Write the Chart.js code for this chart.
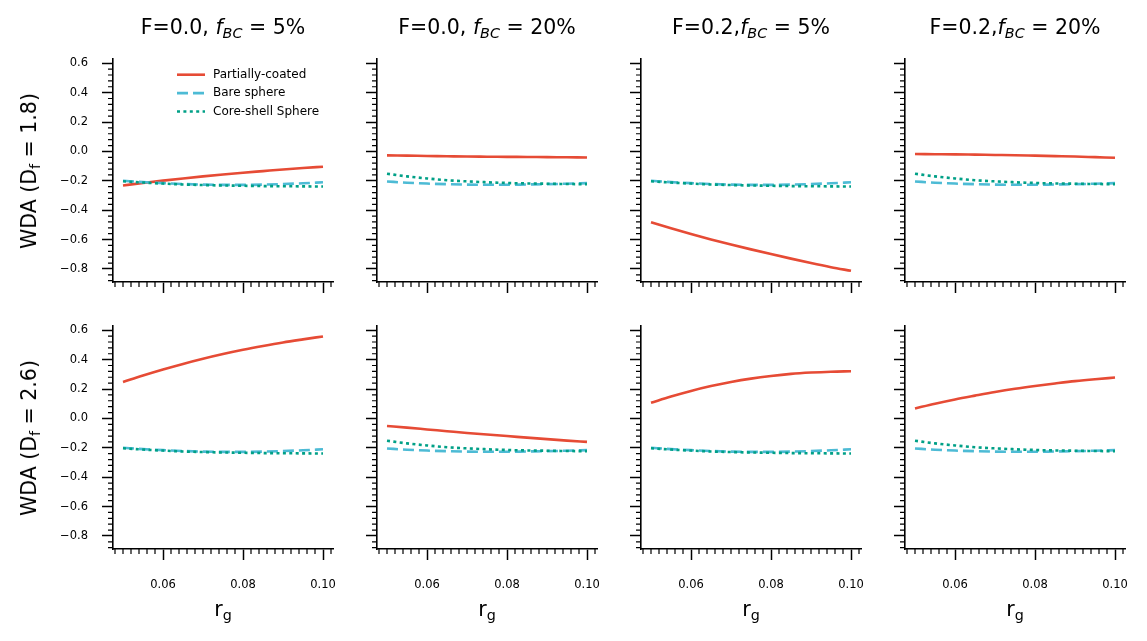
<!DOCTYPE html>
<html>
<head>
<meta charset="utf-8">
<script src="https://cdn.jsdelivr.net/npm/chart.js@4.4.1/dist/chart.umd.min.js"></script>
<style>
  body { margin: 0; background: #fff; width: 1147px; height: 641px; position: relative; overflow: hidden;
         font-family: "DejaVu Sans", sans-serif; color: #000; }
  canvas { position: absolute; }
  .lbl { position: absolute; white-space: nowrap; font-size: 20.5px; transform: translate(-50%, -50%); }
  .rot { transform: translate(-50%, -50%) rotate(-90deg); }
  sub { font-size: 0.7em; vertical-align: -0.3em; line-height: 0; }
</style>
</head>
<body>
<script>
// r_g values (x axis)
const rg = [0.05, 0.055, 0.06, 0.065, 0.07, 0.075, 0.08, 0.085, 0.09, 0.095, 0.10];

// Bare sphere / core-shell sphere (same for both D_f rows)
const bare5   = [-0.200, -0.209, -0.216, -0.222, -0.226, -0.228, -0.228, -0.226, -0.222, -0.217, -0.210];
const core5   = [-0.203, -0.212, -0.219, -0.225, -0.229, -0.232, -0.234, -0.236, -0.237, -0.238, -0.239];
const bare20  = [-0.205, -0.213, -0.219, -0.223, -0.226, -0.227, -0.227, -0.225, -0.223, -0.220, -0.216];
const core20  = [-0.152, -0.170, -0.184, -0.196, -0.204, -0.210, -0.215, -0.218, -0.220, -0.222, -0.223];

// Partially-coated, one per panel
const pcF0f5D18  = [-0.232, -0.215, -0.199, -0.184, -0.170, -0.157, -0.145, -0.134, -0.123, -0.113, -0.104];
const pcF0f20D18 = [-0.027, -0.029, -0.031, -0.033, -0.035, -0.036, -0.037, -0.038, -0.039, -0.040, -0.041];
const pcF2f5D18  = [-0.482, -0.523, -0.562, -0.599, -0.634, -0.667, -0.699, -0.730, -0.760, -0.788, -0.813];
const pcF2f20D18 = [-0.018, -0.019, -0.020, -0.022, -0.024, -0.026, -0.029, -0.032, -0.035, -0.039, -0.043];
const pcF0f5D26  = [0.248, 0.292, 0.333, 0.371, 0.406, 0.438, 0.467, 0.493, 0.517, 0.538, 0.558];
const pcF0f20D26 = [-0.052, -0.063, -0.075, -0.087, -0.099, -0.110, -0.120, -0.131, -0.141, -0.151, -0.160];
const pcF2f5D26  = [0.106, 0.149, 0.187, 0.220, 0.248, 0.271, 0.289, 0.303, 0.312, 0.318, 0.321];
const pcF2f20D26 = [0.068, 0.100, 0.129, 0.155, 0.180, 0.202, 0.221, 0.238, 0.254, 0.267, 0.278];

const titles = ['F=0.0, <i>f</i><sub><i>BC</i></sub> = 5%', 'F=0.0, <i>f</i><sub><i>BC</i></sub> = 20%',
                'F=0.2,<i>f</i><sub><i>BC</i></sub> = 5%', 'F=0.2,<i>f</i><sub><i>BC</i></sub> = 20%'];
const rowLabels = ['WDA (D<sub>f</sub> = 1.8)', 'WDA (D<sub>f</sub> = 2.6)'];
const seriesNames = ['Partially-coated', 'Bare sphere', 'Core-shell Sphere'];

const xTicks = [0.06, 0.08, 0.10];
const xTickLabels = ['0.06', '0.08', '0.10'];
const yTicks = [-0.8, -0.6, -0.4, -0.2, 0.0, 0.2, 0.4, 0.6];
const yTickLabels = ['\u22120.8', '\u22120.6', '\u22120.4', '\u22120.2', '0.0', '0.2', '0.4', '0.6'];

const panels = [
  { row: 0, col: 0, pc: pcF0f5D18,  bare: bare5,  core: core5 },
  { row: 0, col: 1, pc: pcF0f20D18, bare: bare20, core: core20 },
  { row: 0, col: 2, pc: pcF2f5D18,  bare: bare5,  core: core5 },
  { row: 0, col: 3, pc: pcF2f20D18, bare: bare20, core: core20 },
  { row: 1, col: 0, pc: pcF0f5D26,  bare: bare5,  core: core5 },
  { row: 1, col: 1, pc: pcF0f20D26, bare: bare20, core: core20 },
  { row: 1, col: 2, pc: pcF2f5D26,  bare: bare5,  core: core5 },
  { row: 1, col: 3, pc: pcF2f20D26, bare: bare20, core: core20 },
];

const colors = ['#E64B35', '#4DBBD5', '#00A087'];
const dashes = [[], [11, 5], [3, 3.4]];
const FONT = '"DejaVu Sans", sans-serif';

// layout of the plot areas
const plotLefts = [113, 377, 641, 905];
const plotTops = [59, 326];
const PW = 220, PH = 223;
const AXW = 80, AXH = 60, PADT = 32, PADR = 32;

// minor tick positions
const xMinor = [], yMinor = [];
for (let i = 24; i <= 51; i++) { if (i % 10 !== 0) xMinor.push(i * 0.002); }
for (let i = -22; i <= 15; i++) { if (i % 5 !== 0) yMinor.push(i * 0.04); }

const minorTicks = {
  id: 'minorTicks',
  afterDraw(chart) {
    const { ctx, chartArea: a, scales: { x, y } } = chart;
    ctx.save();
    ctx.strokeStyle = '#000';
    ctx.lineWidth = 1.2;
    ctx.beginPath();
    xMinor.forEach(v => {
      const p = x.getPixelForValue(v);
      if (p < a.left - 1 || p > a.right + 1) return;
      ctx.moveTo(p, a.bottom); ctx.lineTo(p, a.bottom + 5);
    });
    yMinor.forEach(v => {
      const p = y.getPixelForValue(v);
      if (p < a.top - 1 || p > a.bottom + 1) return;
      ctx.moveTo(a.left, p); ctx.lineTo(a.left - 5, p);
    });
    ctx.stroke();
    ctx.restore();
  }
};

const legendBox = {
  id: 'legendBox',
  afterDatasetsDraw(chart) {
    const { ctx, chartArea: a } = chart;
    ctx.save();
    ctx.font = '12px ' + FONT;
    ctx.textBaseline = 'middle';
    seriesNames.forEach((name, i) => {
      const yy = a.top + 15.7 + i * 18.4;
      ctx.strokeStyle = colors[i];
      ctx.lineWidth = 2.6;
      ctx.setLineDash(dashes[i]);
      ctx.beginPath();
      ctx.moveTo(a.left + 64, yy); ctx.lineTo(a.left + 92, yy);
      ctx.stroke();
      ctx.setLineDash([]);
      ctx.fillStyle = '#000';
      ctx.fillText(name, a.left + 100, yy);
    });
    ctx.restore();
  }
};

function addLabel(html, x, y, cls) {
  const d = document.createElement('div');
  d.className = 'lbl' + (cls ? ' ' + cls : '');
  d.innerHTML = html;
  d.style.left = x + 'px';
  d.style.top = y + 'px';
  document.body.appendChild(d);
}

panels.forEach((p, k) => {
  const left = plotLefts[p.col], top = plotTops[p.row];
  const cv = document.createElement('canvas');
  cv.width = AXW + PW + PADR;
  cv.height = PADT + PH + AXH;
  cv.style.left = (left - AXW) + 'px';
  cv.style.top = (top - PADT) + 'px';
  document.body.appendChild(cv);

  const series = [p.pc, p.bare, p.core];
  new Chart(cv, {
    type: 'line',
    data: {
      datasets: series.map((vals, i) => ({
        label: seriesNames[i],
        data: rg.map((x, j) => ({ x: x, y: vals[j] })),
        borderColor: colors[i],
        borderWidth: 2.6,
        borderDash: dashes[i],
        borderCapStyle: 'butt',
        pointRadius: 0,
        cubicInterpolationMode: 'monotone',
        fill: false,
        order: 2 - i
      }))
    },
    options: {
      responsive: false,
      animation: false,
      devicePixelRatio: 1,
      layout: { padding: { top: PADT, right: PADR, left: 0, bottom: 0 } },
      plugins: { legend: { display: false }, tooltip: { enabled: false } },
      scales: {
        x: {
          type: 'linear', min: 0.0475, max: 0.1025,
          afterBuildTicks: s => { s.ticks = xTicks.map(v => ({ value: v })); },
          afterFit: s => { s.height = AXH; },
          border: { display: true, color: '#000', width: 1.6 },
          grid: { drawOnChartArea: false, drawTicks: true, tickLength: 11, tickWidth: 1.5, tickColor: '#000' },
          ticks: {
            padding: 18, color: '#000', font: { family: FONT, size: 11.5 }, maxRotation: 0, autoSkip: false,
            callback: (v, i) => p.row === 1 ? xTickLabels[i] : ''
          }
        },
        y: {
          min: -0.889, max: 0.629,
          afterBuildTicks: s => { s.ticks = yTicks.map(v => ({ value: v })); },
          afterFit: s => { s.width = AXW; },
          border: { display: true, color: '#000', width: 1.6 },
          grid: { drawOnChartArea: false, drawTicks: true, tickLength: 11, tickWidth: 1.5, tickColor: '#000' },
          ticks: {
            padding: 14, color: '#000', font: { family: FONT, size: 11.5 }, autoSkip: false,
            callback: (v, i) => p.col === 0 ? yTickLabels[i] : ''
          }
        }
      }
    },
    plugins: k === 0 ? [minorTicks, legendBox] : [minorTicks]
  });

  if (p.row === 0) addLabel(titles[p.col], left + PW / 2, 27);
  if (p.row === 1) addLabel('r<sub>g</sub>', left + PW / 2, 609);
  if (p.col === 0) addLabel(rowLabels[p.row], 29, top + PH / 2, 'rot');
});
</script>
</body>
</html>
